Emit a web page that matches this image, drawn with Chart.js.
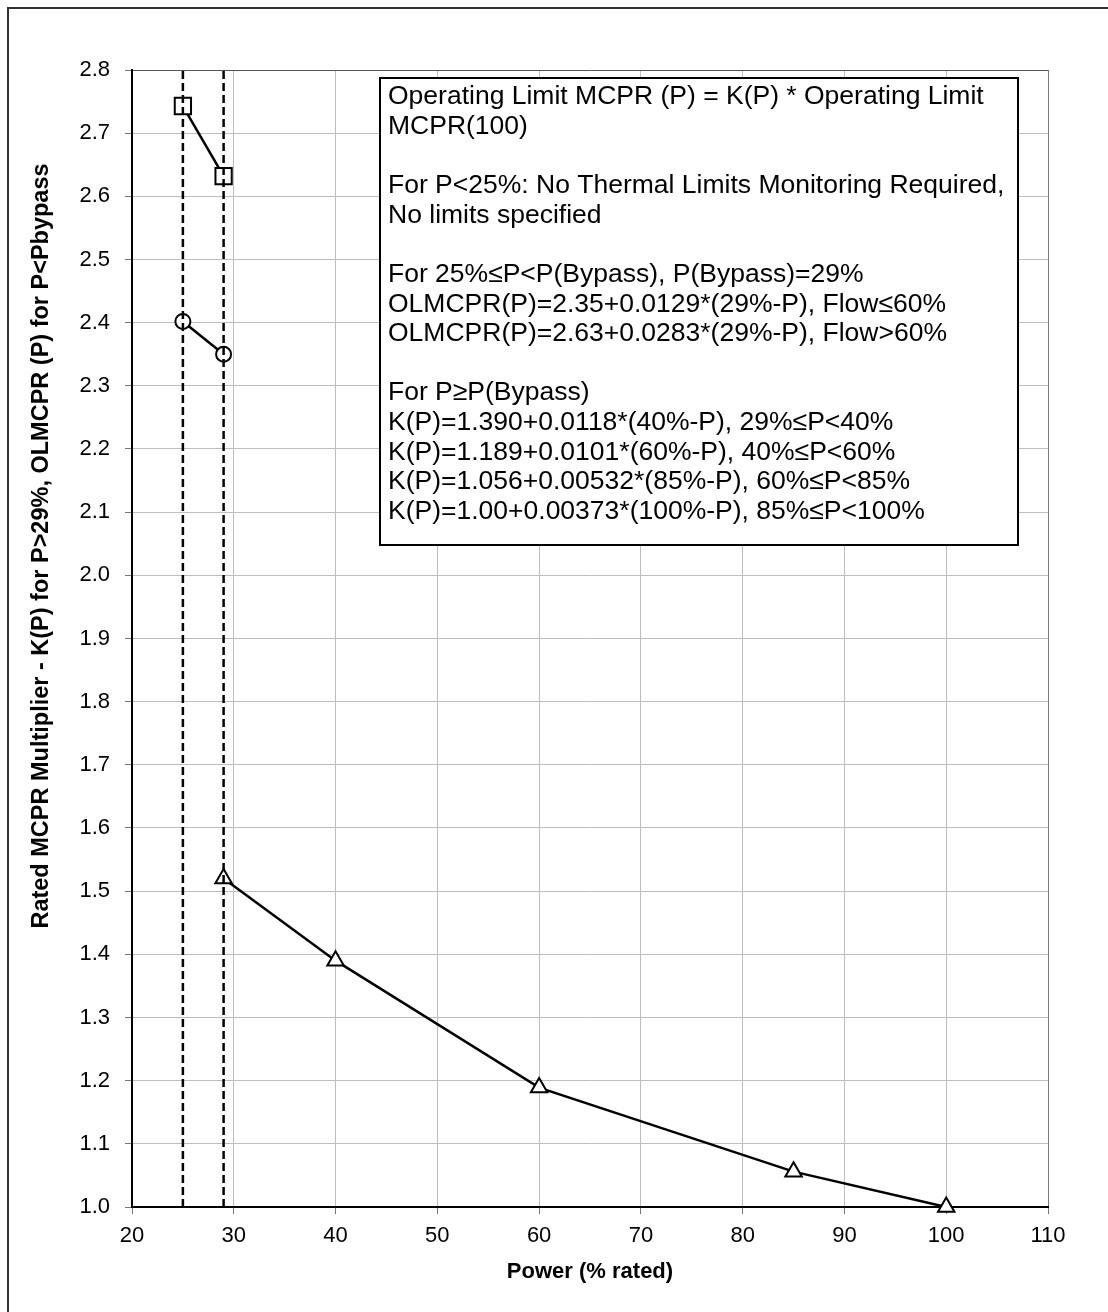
<!DOCTYPE html>
<html>
<head>
<meta charset="utf-8">
<script src="https://cdn.jsdelivr.net/npm/chart.js@4.4.0/dist/chart.umd.min.js"></script>
<style>
  body { margin: 0; background: #fff; }
  #wrap { position: relative; width: 1108px; height: 1312px; overflow: hidden; }
  #frame { position: absolute; left: 7px; top: 7px; right: -10px; bottom: -10px; border-top: 2px solid #333; border-left: 2px solid #333; }
  canvas { position: absolute; left: 0; top: 0; }
</style>
</head>
<body>
<div id="wrap">
  <div id="frame"></div>
  <canvas id="mcprChart" width="1108" height="1312"></canvas>
</div>
<script>
// power (% rated)
const flowHighPower = [25, 29];
const flowHighValues = [2.743, 2.632];
const flowLowPower = [25, 29];
const flowLowValues = [2.402, 2.35];
const kPower = [29, 40, 60, 85, 100];
const kValues = [1.520, 1.390, 1.189, 1.056, 1.00];
const bypassLines = [25, 29];

const xTicks = [20, 30, 40, 50, 60, 70, 80, 90, 100, 110];
const yMin = 1.0;
const yMax = 2.8;

const yTitle = 'Rated MCPR Multiplier - K(P) for P>29%, OLMCPR (P) for P<Pbypass';
const xTitle = 'Power (% rated)';

const noteLines = [
  'Operating Limit MCPR (P) = K(P) * Operating Limit',
  'MCPR(100)',
  '',
  'For P<25%: No Thermal Limits Monitoring Required,',
  'No limits specified',
  '',
  'For 25%≤P<P(Bypass), P(Bypass)=29%',
  'OLMCPR(P)=2.35+0.0129*(29%-P), Flow≤60%',
  'OLMCPR(P)=2.63+0.0283*(29%-P), Flow>60%',
  '',
  'For P≥P(Bypass)',
  'K(P)=1.390+0.0118*(40%-P), 29%≤P<40%',
  'K(P)=1.189+0.0101*(60%-P), 40%≤P<60%',
  'K(P)=1.056+0.00532*(85%-P), 60%≤P<85%',
  'K(P)=1.00+0.00373*(100%-P), 85%≤P<100%'
];

const FONT = '"Liberation Sans", Arial, sans-serif';

function toPoints(xs, ys) {
  return xs.map((x, i) => ({ x: x, y: ys[i] }));
}

const dashedSets = bypassLines.map(p => ({
  data: [{ x: p, y: yMin }, { x: p, y: yMax }],
  borderColor: '#000',
  borderWidth: 2.5,
  borderDash: [8, 4],
  pointRadius: 0
}));

function markerSet(data, style, radius) {
  return {
    data: data,
    borderColor: '#000',
    borderWidth: 2.5,
    pointStyle: style,
    pointRadius: radius,
    pointBorderWidth: 2,
    pointBackgroundColor: '#fff',
    pointBorderColor: '#000',
    tension: 0,
    clip: false
  };
}

// text box + rotated y title (placed like the original, not centred on the axis)
const extras = {
  id: 'extras',
  afterDraw(chart) {
    const ctx = chart.ctx;
    ctx.save();
    ctx.fillStyle = '#fff';
    ctx.fillRect(380, 78, 638, 467);
    ctx.strokeStyle = '#000';
    ctx.lineWidth = 2;
    ctx.strokeRect(380, 78, 638, 467);
    ctx.fillStyle = '#000';
    ctx.font = '26.5px ' + FONT;
    ctx.textBaseline = 'middle';
    noteLines.forEach((line, i) => {
      if (line) ctx.fillText(line, 388, 97 + i * 29.6);
    });

    ctx.translate(42, 546);
    ctx.rotate(-Math.PI / 2);
    ctx.font = 'bold 23.5px ' + FONT;
    ctx.textAlign = 'center';
    ctx.fillText(yTitle, 0, 0);
    ctx.restore();
  }
};

new Chart(document.getElementById('mcprChart'), {
  type: 'line',
  data: {
    datasets: [
      ...dashedSets,
      markerSet(toPoints(flowHighPower, flowHighValues), 'rect', 11.5),
      markerSet(toPoints(flowLowPower, flowLowValues), 'circle', 7.5),
      markerSet(toPoints(kPower, kValues), 'triangle', 9.5)
    ]
  },
  options: {
    responsive: false,
    animation: false,
    devicePixelRatio: 1,
    layout: { padding: { top: 70, right: 60, left: 0, bottom: 0 } },
    plugins: {
      legend: { display: false },
      tooltip: { enabled: false }
    },
    scales: {
      x: {
        type: 'linear',
        min: 20,
        max: 110,
        afterFit(scale) { scale.height = 105; },
        afterBuildTicks(scale) { scale.ticks = xTicks.map(v => ({ value: v })); },
        grid: {
          color: ctx => ctx.tick && ctx.tick.value === 110 ? '#777' : '#bdbdbd',
          tickColor: '#777',
          tickLength: 7,
          lineWidth: 1
        },
        border: { color: '#000', width: 2 },
        ticks: {
          color: '#000',
          padding: 9,
          font: { family: FONT, size: 22 }
        },
        title: {
          display: true,
          text: xTitle,
          color: '#000',
          font: { family: FONT, size: 22, weight: 'bold' },
          padding: { top: 0, bottom: 27 }
        }
      },
      y: {
        min: yMin,
        max: yMax,
        afterFit(scale) { scale.width = 132; },
        grid: {
          color: ctx => ctx.tick && Math.abs(ctx.tick.value - 2.8) < 1e-6 ? '#555' : '#bdbdbd',
          tickColor: '#777',
          tickLength: 7,
          lineWidth: 1
        },
        border: { color: '#000', width: 2 },
        ticks: {
          stepSize: 0.1,
          color: '#000',
          padding: 15,
          font: { family: FONT, size: 22 },
          callback: value => value.toFixed(1)
        }
      }
    }
  },
  plugins: [extras]
});
</script>
</body>
</html>
